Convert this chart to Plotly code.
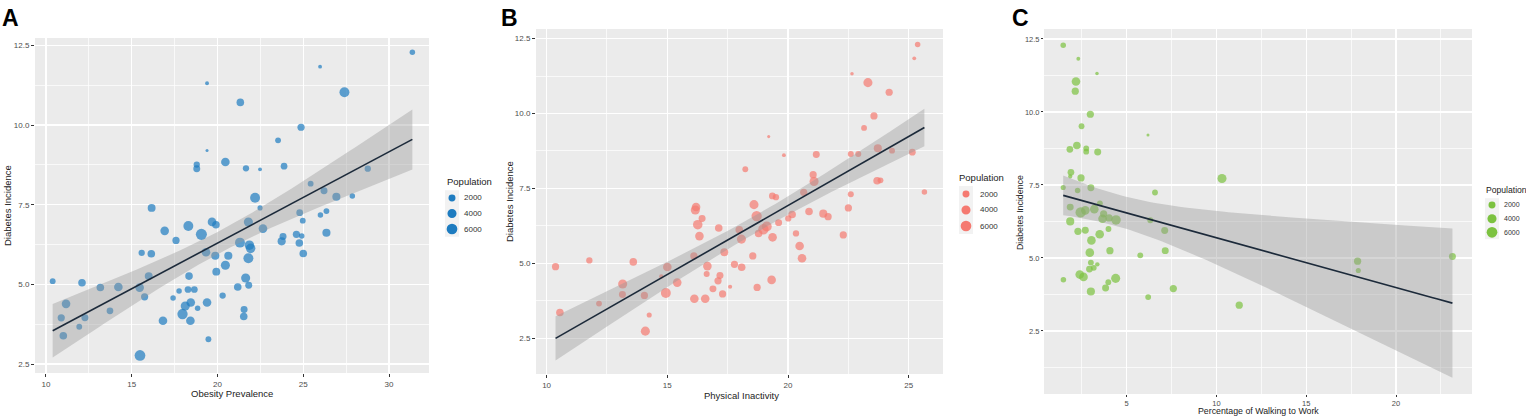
import numpy as np
import plotly.graph_objects as go

# ---------------- data ----------------
# Panel A: Obesity prevalence vs diabetes incidence
obesity_x = [31.36, 25.98, 19.39, 27.40, 21.33, 24.87, 23.53, 19.39, 18.79, 18.79,
             20.46, 21.66, 22.48, 23.88, 28.76, 25.43, 26.21, 26.93, 27.86, 22.19,
             22.48, 16.16, 24.79, 26.35, 26.00, 24.97, 19.68, 19.91, 21.80, 16.92,
             18.30, 19.06, 17.58, 22.65, 26.35, 24.60, 23.82, 24.91, 23.74, 24.77,
             21.31, 21.86, 21.93, 21.80, 19.33, 19.87, 20.63, 25.00, 16.14, 15.58,
             20.46, 19.93, 15.99, 18.34, 21.64, 10.39, 12.10, 21.82, 13.17, 14.22,
             15.46, 21.18, 18.28, 18.65, 17.76, 20.30, 15.75, 17.41, 11.17, 19.39,
             18.44, 18.12, 18.84, 21.55, 13.73, 17.96, 21.53, 10.89, 12.27, 16.82,
             18.42, 11.94, 11.01, 19.47, 15.48]
obesity_y = [12.28, 11.83, 11.31, 11.03, 10.71, 9.93, 9.52, 9.20, 8.76, 8.63,
             8.84, 8.64, 8.61, 8.71, 8.63, 8.16, 7.94, 7.75, 7.77, 7.72,
             7.40, 7.40, 7.25, 7.30, 7.18, 7.00, 6.96, 6.87, 6.96, 6.68,
             6.83, 6.57, 6.38, 6.75, 6.62, 6.57, 6.50, 6.52, 6.35, 6.30,
             6.31, 6.23, 6.13, 5.82, 6.01, 5.90, 5.90, 5.97, 5.96, 5.99,
             5.60, 5.40, 5.26, 5.26, 5.20, 5.10, 5.05, 4.97, 4.90, 4.92,
             4.90, 4.92, 4.84, 4.84, 4.79, 4.65, 4.61, 4.57, 4.39, 4.43,
             4.43, 4.32, 4.25, 4.21, 4.17, 4.07, 3.99, 3.95, 3.95, 3.86,
             3.86, 3.67, 3.39, 3.28, 2.77]
obesity_pop = [1000, 300, 300, 5000, 2500, 2200, 1200, 100, 1500, 2000,
               3500, 1500, 300, 1800, 1500, 1200, 2000, 3000, 1000, 5000,
               800, 2800, 1800, 1200, 1000, 1200, 3500, 2500, 4000, 3500,
               5000, 6500, 2200, 3500, 3000, 2200, 2000, 1000, 3000, 2500,
               5000, 4500, 4500, 5000, 3500, 3000, 3000, 2500, 2500, 1500,
               4000, 2800, 2800, 2500, 4000, 1200, 2500, 2000, 2500, 3500,
               3500, 2500, 1800, 1800, 1000, 1500, 2200, 1000, 3500, 3500,
               3500, 4000, 1000, 2000, 1800, 5500, 2500, 2200, 2000, 3500,
               3500, 1200, 2500, 1200, 6000]

# Panel B: Physical inactivity vs diabetes incidence
inactivity_x = [25.37, 25.23, 22.65, 23.31, 24.19, 23.56, 23.15, 19.20, 19.83, 25.15,
                24.31, 23.72, 22.60, 22.91, 21.17, 18.23, 21.04, 21.08, 23.69, 23.83,
                25.65, 20.65, 22.60, 19.35, 19.50, 18.59, 16.19, 16.16, 22.50, 20.87,
                21.46, 21.66, 18.70, 20.17, 20.01, 16.44, 16.26, 19.61, 17.13, 19.12,
                18.98, 17.98, 18.78, 20.33, 22.29, 16.33, 19.36, 18.07, 20.48, 17.36,
                16.10, 18.54, 20.58, 11.77, 13.59, 17.78, 16.66, 15.00, 18.08, 10.37,
                16.63, 17.18, 14.75, 17.10, 19.32, 15.41, 13.15, 17.60, 18.72, 16.89,
                13.14, 14.05, 14.94, 17.29, 16.12, 16.57, 12.17, 10.55, 14.25, 14.09]
inactivity_y = [12.30, 11.84, 11.33, 11.03, 10.71, 9.92, 9.52, 9.23, 8.61, 8.71,
                8.76, 8.84, 8.65, 8.65, 8.63, 8.14, 7.96, 7.73, 7.76, 7.77,
                7.38, 7.37, 7.31, 7.25, 7.21, 6.96, 6.88, 6.78, 6.85, 6.73,
                6.66, 6.56, 6.58, 6.63, 6.50, 6.50, 6.29, 6.36, 6.18, 6.23,
                6.14, 6.12, 6.00, 6.00, 5.95, 5.91, 5.87, 5.81, 5.58, 5.37,
                5.25, 5.25, 5.17, 5.10, 5.05, 4.97, 4.91, 4.88, 4.87, 4.89,
                4.65, 4.60, 4.56, 4.42, 4.45, 4.36, 4.31, 4.22, 4.20, 4.15,
                3.96, 3.93, 4.01, 3.98, 3.82, 3.82, 3.66, 3.36, 3.28, 2.74]
inactivity_pop = [1000, 300, 200, 4000, 2200, 2200, 1200, 100, 300, 1800,
                  1200, 3000, 1300, 1300, 2000, 1200, 2200, 4000, 2500, 1200,
                  1000, 2200, 1300, 1800, 1500, 4000, 3500, 4000, 2200, 2500,
                  3000, 2200, 5500, 2500, 1500, 2000, 4500, 2000, 2500, 5000,
                  5500, 2500, 2500, 1500, 2200, 3500, 3500, 4000, 3500, 2800,
                  2200, 2200, 3500, 1500, 2500, 2200, 3500, 3500, 2500, 2200,
                  1300, 2000, 500, 2200, 3500, 3500, 4000, 400, 2200, 2000,
                  2000, 2200, 5000, 2200, 3500, 3500, 1200, 2500, 800, 4000]

# Panel C: Percentage walking to work vs diabetes incidence
walking_x = [1.47, 2.31, 3.35, 2.18, 2.14, 2.98, 2.49, 6.19, 2.23, 1.84,
             2.75, 2.75, 3.39, 1.90, 1.86, 2.46, 10.31, 3.01, 1.47, 2.27,
             6.58, 3.51, 1.86, 3.20, 2.70, 2.44, 3.72, 3.66, 4.02, 4.41,
             6.32, 1.86, 2.29, 2.70, 3.99, 7.12, 3.04, 3.50, 2.95, 4.07,
             7.15, 5.76, 17.86, 23.14, 3.01, 3.37, 17.90, 2.93, 3.17, 1.48,
             2.39, 2.60, 4.39, 3.98, 3.83, 7.60, 3.01, 6.20, 11.27]
walking_y = [12.28, 11.82, 11.32, 11.04, 10.71, 9.92, 9.51, 9.21, 8.85, 8.72,
             8.75, 8.64, 8.63, 7.93, 7.79, 7.74, 7.72, 7.40, 7.41, 7.31,
             7.24, 6.87, 6.74, 6.67, 6.63, 6.56, 6.51, 6.34, 6.37, 6.30,
             6.29, 6.25, 5.91, 5.95, 5.99, 5.94, 5.60, 5.81, 5.18, 5.25,
             5.25, 5.09, 4.89, 5.05, 4.84, 4.78, 4.57, 4.62, 4.66, 4.25,
             4.43, 4.35, 4.30, 4.17, 3.97, 3.95, 3.85, 3.66, 3.38]
walking_pop = [1000, 300, 200, 3500, 2200, 2200, 1200, 100, 2500, 1800,
               1200, 1200, 2000, 1800, 400, 2200, 4000, 2000, 800, 1000,
               1200, 1200, 2000, 3500, 3500, 5500, 2200, 3500, 2200, 4500,
               1300, 3000, 2200, 2000, 1200, 2000, 3500, 3500, 3500, 2200,
               2000, 1200, 2200, 2000, 1200, 500, 800, 1800, 1200, 1000,
               3500, 3500, 4000, 1200, 2000, 2200, 3000, 1200, 2200]

legend_breaks = [2000, 4000, 6000]
legend_title = "Population"
y_title = "Diabetes Incidence"
x_titles = ["Obesity Prevalence", "Physical Inactivity", "Percentage of Walking to Work"]
panel_letters = ["A", "B", "C"]

# ---------------- styling / geometry ----------------
W, H = 1526, 418
FONT = "Liberation Sans, Arial, sans-serif"
POP_MAX = 7000.0


def diam(p):
    p = np.asarray(p, dtype=float)
    return 1.9 * (1 + 5 * np.sqrt(np.clip(p, 0, None) / POP_MAX))


def fit_band(x, y, n_grid=100):
    x = np.asarray(x, float)
    y = np.asarray(y, float)
    n = len(x)
    b, a = np.polyfit(x, y, 1)
    resid = y - (a + b * x)
    df = n - 2
    s = np.sqrt(np.sum(resid ** 2) / df)
    xbar = x.mean()
    sxx = np.sum((x - xbar) ** 2)
    z = 1.959963985
    t = z + (z ** 3 + z) / (4 * df) + (5 * z ** 5 + 16 * z ** 3 + 3 * z) / (96 * df ** 2)
    xg = np.linspace(x.min(), x.max(), n_grid)
    yg = a + b * xg
    se = s * np.sqrt(1.0 / n + (xg - xbar) ** 2 / sxx)
    return xg, yg, yg - t * se, yg + t * se


panels = [
    dict(x=obesity_x, y=obesity_y, pop=obesity_pop, color="#1E7CC0",
         px=(35, 429), py=(38, 373), xr=(9.36, 32.33), yr=(2.22, 12.73),
         letter_x=0, xt=(232, 393, "middle"), yt=(7, 206), fs=9.5, tfs=8, tl=3,
         leg=dict(title=(445, 181), kx=452, ky=[198, 213.5, 229], lx=462,
                  box=(445, 459), fs=9.5, ls=8)),
    dict(x=inactivity_x, y=inactivity_y, pop=inactivity_pop, color="#F57A71",
         px=(536, 943), py=(29, 374), xr=(9.56, 26.42), yr=(1.31, 12.82),
         letter_x=499, xt=(741, 395, "middle"), yt=(509, 202), fs=9.5, tfs=8, tl=3,
         leg=dict(title=(957, 177), kx=966, ky=[194, 210, 226], lx=978,
                  box=(959, 973), fs=9.5, ls=8)),
    dict(x=walking_x, y=walking_y, pop=walking_pop, color="#7CC240",
         px=(1044, 1472), py=(29, 394), xr=(0.40, 24.23), yr=(0.34, 12.84),
         letter_x=1010, xt=(1258, 418, "bottom"), yt=(1020, 212), fs=8.8, tfs=7.5, tl=2,
         leg=dict(title=(1484, 190), kx=1492, ky=[205, 218.7, 232.3], lx=1502,
                  box=(1485, 1499), fs=8.6, ls=7)),
]

fig = go.Figure()
layout = dict(
    width=W, height=H, margin=dict(l=0, r=0, t=0, b=0),
    paper_bgcolor="white", plot_bgcolor="#EBEBEB",
    showlegend=False, hovermode=False,
    font=dict(family=FONT, color="#333333"),
)
annotations = []
shapes = []

for i, p in enumerate(panels):
    sfx = "" if i == 0 else str(i + 1)
    xa, ya = "x" + sfx, "y" + sfx
    # points
    fig.add_trace(go.Scatter(
        x=p["x"], y=p["y"], mode="markers", xaxis=xa, yaxis=ya,
        marker=dict(size=diam(p["pop"]), color=p["color"], line=dict(width=0)),
        showlegend=False))
    # regression band + line (drawn over the points, as geom_smooth does)
    xg, yg, lo, hi = fit_band(p["x"], p["y"])
    fig.add_trace(go.Scatter(
        x=np.concatenate([xg, xg[::-1]]), y=np.concatenate([hi, lo[::-1]]),
        mode="lines", fill="toself", fillcolor="rgba(153,153,153,0.4)",
        line=dict(width=0), xaxis=xa, yaxis=ya, showlegend=False))
    fig.add_trace(go.Scatter(
        x=xg, y=yg, mode="lines", line=dict(color="#1C2A3A", width=1.6),
        xaxis=xa, yaxis=ya, showlegend=False))

    common = dict(
        showgrid=True, gridcolor="white", gridwidth=1.4,
        zeroline=False, showline=False,
        ticks="outside", ticklen=p["tl"], tickwidth=1, tickcolor="#333333",
        tickfont=dict(size=p["tfs"], color="#4D4D4D", family=FONT),
    )
    layout["xaxis" + sfx] = dict(
        domain=[p["px"][0] / W, p["px"][1] / W], range=list(p["xr"]),
        anchor=ya, tick0=0, dtick=5,
        minor=dict(dtick=2.5, showgrid=True, gridcolor="white", gridwidth=0.7),
        **common)
    layout["yaxis" + sfx] = dict(
        domain=[1 - p["py"][1] / H, 1 - p["py"][0] / H], range=list(p["yr"]),
        anchor=xa, tick0=0, dtick=2.5, tickformat=".1f",
        minor=dict(dtick=1.25, showgrid=True, gridcolor="white", gridwidth=0.7),
        **common)

    # panel letter
    annotations.append(dict(
        text="<b>%s</b>" % panel_letters[i], xref="paper", yref="paper",
        x=p["letter_x"] / W, y=1 - 3 / H, xanchor="left", yanchor="top",
        showarrow=False, font=dict(size=23, color="black", family=FONT)))
    # axis titles
    annotations.append(dict(
        text=x_titles[i], xref="paper", yref="paper",
        x=p["xt"][0] / W, y=1 - p["xt"][1] / H, xanchor="center", yanchor=p["xt"][2],
        showarrow=False, font=dict(size=p["fs"], color="#222222", family=FONT)))
    annotations.append(dict(
        text=y_title, xref="paper", yref="paper", textangle=-90,
        x=p["yt"][0] / W, y=1 - p["yt"][1] / H, xanchor="center", yanchor="middle",
        showarrow=False, font=dict(size=p["fs"], color="#222222", family=FONT)))

    # legend (title, key backgrounds, keys, labels)
    lg = p["leg"]
    annotations.append(dict(
        text=legend_title, xref="paper", yref="paper",
        x=lg["title"][0] / W, y=1 - lg["title"][1] / H, xanchor="left", yanchor="middle",
        showarrow=False, font=dict(size=lg["fs"], color="#222222", family=FONT)))
    step = lg["ky"][1] - lg["ky"][0]
    shapes.append(dict(
        type="rect", xref="paper", yref="paper", layer="below",
        x0=lg["box"][0] / W, x1=lg["box"][1] / W,
        y0=1 - (lg["ky"][-1] + step / 2) / H, y1=1 - (lg["ky"][0] - step / 2) / H,
        fillcolor="#F2F2F2", line=dict(width=0)))
    for brk, ky in zip(legend_breaks, lg["ky"]):
        d = float(diam(brk))
        shapes.append(dict(
            type="circle", xref="paper", yref="paper",
            x0=(lg["kx"] - d / 2) / W, x1=(lg["kx"] + d / 2) / W,
            y0=1 - (ky + d / 2) / H, y1=1 - (ky - d / 2) / H,
            fillcolor=p["color"], line=dict(width=0)))
        annotations.append(dict(
            text=str(brk), xref="paper", yref="paper",
            x=lg["lx"] / W, y=1 - ky / H, xanchor="left", yanchor="middle",
            showarrow=False, font=dict(size=lg["ls"], color="#333333", family=FONT)))

layout["annotations"] = annotations
layout["shapes"] = shapes
fig.update_layout(**layout)
fig.write_html(
    "out.html",
    config={"displayModeBar": False, "staticPlot": True},
    post_script="document.body.style.margin='0';document.body.style.padding='0';"
                "document.body.style.overflow='hidden';",
)
